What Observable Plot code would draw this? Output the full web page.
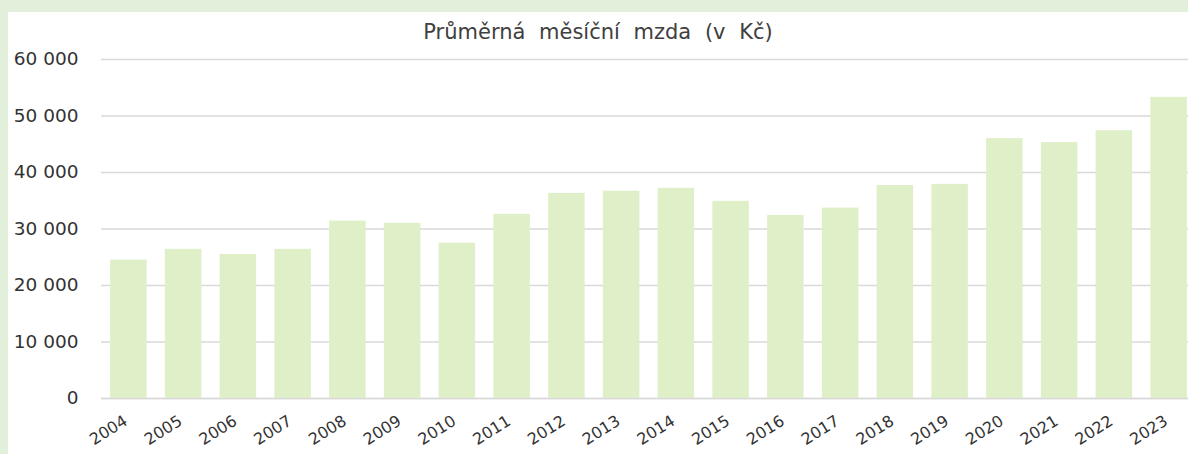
<!DOCTYPE html>
<html>
<head>
<meta charset="utf-8">
<script src="https://cdn.jsdelivr.net/npm/d3@7"></script>
<script src="https://cdn.jsdelivr.net/npm/@observablehq/plot@0.6"></script>
<style>
  html, body { margin: 0; padding: 0; background: #ffffff; }
  #frame { position: relative; width: 1188px; height: 454px; background: #e2efda; overflow: hidden; }
  #panel { position: absolute; left: 8px; top: 12px; width: 1180px; height: 442px; background: #ffffff; overflow: hidden; }
  #title { position: absolute; left: 0; top: 0; width: 1180px; height: 38px; text-align: center; z-index: 2;
           font-family: "DejaVu Sans", sans-serif; font-size: 21px; word-spacing: 7px; color: #404040;
           line-height: 21px; padding-top: 10px; box-sizing: border-box; }
  #chart { position: absolute; left: 0; top: 20px; z-index: 1; }
  svg text { font-family: "DejaVu Sans", sans-serif; }
</style>
</head>
<body>
<div id="frame">
  <div id="panel">
    <div id="chart"></div>
    <div id="title"><span id="tt">Průměrná měsíční mzda (v Kč)</span></div>
  </div>
</div>
<script>
const years = ["2004","2005","2006","2007","2008","2009","2010","2011","2012","2013","2014","2015","2016","2017","2018","2019","2020","2021","2022","2023"];
const wages = [24500, 26400, 25500, 26400, 31400, 31000, 27500, 32600, 36300, 36700, 37200, 34900, 32400, 33700, 37700, 37900, 46000, 45300, 47400, 53300];
const yTicks = [0, 10000, 20000, 30000, 40000, 50000, 60000];

const data = years.map((y, i) => ({year: y, wage: wages[i]}));
const fmt = d3.formatLocale({thousands: "\u00a0", grouping: [3], decimal: ","}).format(",");

const chart = Plot.plot({
  width: 1200,
  height: 422,
  marginLeft: 93,
  marginRight: 12,
  marginTop: 27,
  marginBottom: 56,
  style: {background: "transparent", color: "#404040", maxWidth: "none"},
  x: {domain: years, paddingInner: 0.333, paddingOuter: 0.1667, round: false, label: null},
  y: {domain: [0, 60000], label: null},
  marks: [
    Plot.gridY(yTicks, {stroke: "#d9d9d9", strokeOpacity: 1, strokeWidth: 1.3}),
    Plot.barY(data, {x: "year", y: "wage", fill: "#dff0c9"}),
    Plot.gridY([0], {stroke: "#d9d9d9", strokeOpacity: 1, strokeWidth: 1.3}),
    Plot.axisY(yTicks, {tickSize: 0, tickPadding: 23, tickFormat: fmt, fontSize: 18.5, fill: "#333333", label: null}),
    Plot.axisX({tickSize: 0, tickPadding: 21, tickRotate: -32, dx: -3, fontSize: 16, fill: "#333333", label: null})
  ]
});
chart.style.maxWidth = "none";
document.getElementById("chart").appendChild(chart);
</script>
</body>
</html>
